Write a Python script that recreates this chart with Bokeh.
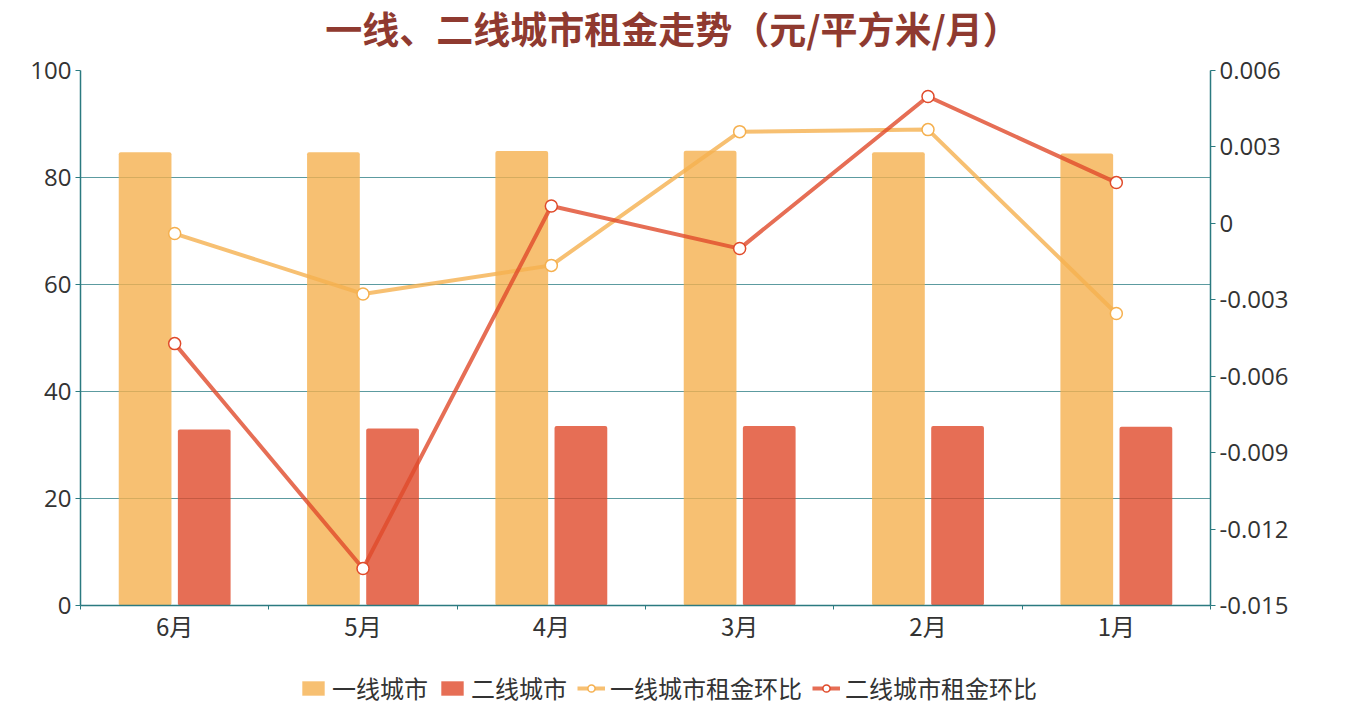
from bokeh.plotting import figure
from bokeh.layouts import column
from bokeh.models import (Range1d, LinearAxis, FixedTicker, Legend, LegendItem, Label, ColumnDataSource)
from bokeh.embed import file_html
from bokeh.resources import INLINE

months = ["6月", "5月", "4月", "3月", "2月", "1月"]
tier1_rent = [84.7, 84.7, 84.95, 85.0, 84.7, 84.5]
tier2_rent = [32.9, 33.1, 33.55, 33.55, 33.55, 33.4]
tier1_mom = [-0.0004, -0.00277, -0.00165, 0.0036, 0.00368, -0.00354]
tier2_mom = [-0.00472, -0.01355, 0.00068, -0.00099, 0.00498, 0.0016]
series_names = ["一线城市", "二线城市", "一线城市租金环比", "二线城市租金环比"]
left_ticks = [0, 20, 40, 60, 80, 100]
right_ticks = [-0.015, -0.012, -0.009, -0.006, -0.003, 0, 0.003, 0.006]
right_labels = ["-0.015", "-0.012", "-0.009", "-0.006", "-0.003", "0", "0.003", "0.006"]
title_text = "一线、二线城市租金走势（元/平方米/月）"

ORANGE = "#f5b04f"
RED = "#e04a2a"
AXIS = "#2b7a80"
GRID = "#4a9096"
TXT = "#333333"
CJK = "Noto Sans CJK SC"
NUM = "Open Sans"

W = 1355
H_TITLE = 54
H_MAIN = 600
H_LEG = 51

# ---- title strip ----
tf = figure(width=W, height=H_TITLE, output_backend="svg", toolbar_location=None,
            x_axis_location=None, y_axis_location=None, outline_line_color=None,
            min_border=0, x_range=Range1d(0, 1), y_range=Range1d(0, H_TITLE))
tf.grid.visible = False
tf.add_layout(Label(x=592, y=H_TITLE - 27, x_units="screen", text=title_text,
                    text_font=CJK, text_font_size="37px", text_font_style="bold",
                    text_color="#8f3a30", text_align="center", text_baseline="middle"))

# ---- main chart ----
p = figure(width=W, height=H_MAIN, output_backend="svg", toolbar_location=None,
           x_range=Range1d(0, len(months)), y_range=Range1d(0, 100),
           min_border_left=80, min_border_right=145, min_border_top=16, min_border_bottom=49,
           outline_line_color=None)
p.extra_y_ranges = {"r": Range1d(-0.015, 0.006)}

centers = [i + 0.5 for i in range(len(months))]
off = 0.157
bw = 0.28

bar1 = dict(fill_color=ORANGE, fill_alpha=0.8, line_color=None, border_radius=2)
bar2 = dict(fill_color=RED, fill_alpha=0.8, line_color=None, border_radius=2)
ln1 = dict(line_color=ORANGE, line_width=4, line_alpha=0.8)
ln2 = dict(line_color=RED, line_width=4, line_alpha=0.8)
mk1 = dict(size=12, marker="circle", fill_color="white", line_color=ORANGE, line_width=1.5)
mk2 = dict(size=12, marker="circle", fill_color="white", line_color=RED, line_width=1.5)

p.vbar(x=[c - off for c in centers], top=tier1_rent, width=bw, bottom=0, **bar1)
p.vbar(x=[c + off for c in centers], top=tier2_rent, width=bw, bottom=0, **bar2)
p.line(x=centers, y=tier1_mom, y_range_name="r", **ln1)
p.scatter(x=centers, y=tier1_mom, y_range_name="r", **mk1)
p.line(x=centers, y=tier2_mom, y_range_name="r", **ln2)
p.scatter(x=centers, y=tier2_mom, y_range_name="r", **mk2)

# x axis
xa = p.xaxis[0]
xa.ticker = FixedTicker(ticks=centers, minor_ticks=list(range(len(months) + 1)))
xa.major_label_overrides = {c: m for c, m in zip(centers, months)}
xa.major_tick_out = 0
xa.major_tick_in = 0
xa.minor_tick_out = 4
xa.minor_tick_in = 0
xa.minor_tick_line_color = AXIS
xa.axis_line_color = AXIS
xa.axis_line_width = 1.5
xa.major_label_text_font = CJK
xa.major_label_text_font_size = "24px"
xa.major_label_text_color = TXT
xa.major_label_standoff = -2

# left axis
ya = p.yaxis[0]
ya.ticker = FixedTicker(ticks=left_ticks)
ya.axis_line_color = AXIS
ya.axis_line_width = 1.5
ya.major_tick_line_color = AXIS
ya.major_tick_out = 5
ya.major_tick_in = 0
ya.minor_tick_line_color = None
ya.major_label_text_font = NUM
ya.major_label_text_font_size = "24px"
ya.major_label_text_color = TXT
ya.major_label_standoff = 4

# right axis
ra = LinearAxis(y_range_name="r", ticker=FixedTicker(ticks=right_ticks))
ra.major_label_overrides = {t: s for t, s in zip(right_ticks, right_labels)}
ra.axis_line_color = AXIS
ra.axis_line_width = 1.5
ra.major_tick_line_color = AXIS
ra.major_tick_out = 5
ra.major_tick_in = 0
ra.minor_tick_line_color = None
ra.major_label_text_font = NUM
ra.major_label_text_font_size = "24px"
ra.major_label_text_color = TXT
ra.major_label_standoff = 4
p.add_layout(ra, "right")

p.xgrid.grid_line_color = None
p.ygrid.ticker = FixedTicker(ticks=left_ticks)
p.ygrid.grid_line_color = GRID
p.ygrid.grid_line_alpha = 0.9
p.ygrid.grid_line_width = 1

# ---- legend strip ----
lf = figure(width=W, height=H_LEG, output_backend="svg", toolbar_location=None,
            x_axis_location=None, y_axis_location=None, outline_line_color=None,
            min_border=0, x_range=Range1d(0, 1), y_range=Range1d(0, 1))
lf.grid.visible = False
hidden = ColumnDataSource(data=dict(x=[10.0, 11.0], y=[10.0, 11.0], top=[10.0, 11.0]))
r1 = lf.vbar(x="x", top="top", bottom=9.0, width=0.1, source=hidden, **bar1)
r2 = lf.vbar(x="x", top="top", bottom=9.0, width=0.1, source=hidden, **bar2)
r3 = lf.line(x="x", y="y", source=hidden, **ln1)
r4 = lf.scatter(x="x", y="y", source=hidden, **mk1)
r5 = lf.line(x="x", y="y", source=hidden, **ln2)
r6 = lf.scatter(x="x", y="y", source=hidden, **mk2)
legend = Legend(items=[
    LegendItem(label=series_names[0], renderers=[r1]),
    LegendItem(label=series_names[1], renderers=[r2]),
    LegendItem(label=series_names[2], renderers=[r3, r4]),
    LegendItem(label=series_names[3], renderers=[r5, r6]),
], orientation="horizontal", location=(219, 0),
    label_text_font=CJK, label_text_font_size="24px", label_text_color=TXT,
    glyph_width=28, glyph_height=18, spacing=10, label_standoff=5,
    padding=0, margin=0, border_line_color=None, background_fill_alpha=0)
lf.add_layout(legend)

layout = column(tf, p, lf, spacing=0)
open("out.html", "w").write(file_html(layout, INLINE))
